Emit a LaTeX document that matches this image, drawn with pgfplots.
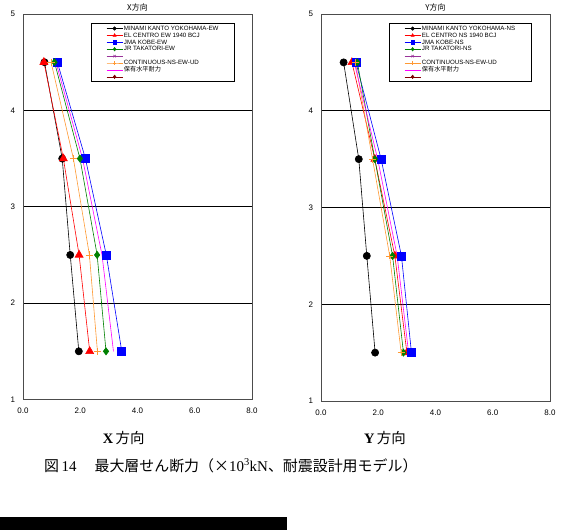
\documentclass[border=0pt]{standalone}
\usepackage{fontspec}
\setmainfont{Liberation Serif}
\newfontfamily\sans{Liberation Sans}
\newfontfamily\cjk{Noto Sans CJK JP}
\usepackage{pgfplots}
\pgfplotsset{compat=1.18}

\definecolor{sOrange}{RGB}{255,153,51}
\definecolor{sGreen}{RGB}{0,128,0}
\definecolor{sMag}{RGB}{255,0,255}
\definecolor{sPurple}{RGB}{153,51,153}
\definecolor{sDark}{RGB}{128,0,0}

\pgfplotsset{
  shearaxis/.style={
    width=229bp, scale only axis,
    xmin=0, xmax=8, ymin=1, ymax=5,
    xtick={0,2,4,6,8}, ytick={1,2,3,4,5},
    major tick length=0pt,
    xticklabel={\pgfmathprintnumber[fixed,fixed zerofill,precision=1]{\tick}},
    /pgf/number format/assume math mode=true,
    ticklabel style={font=\sans\fontsize{8}{8}\selectfont},
    yticklabel style={xshift=-4.5bp},
    xticklabel style={yshift=-5bp},
    ymajorgrids, grid style={black, line width=0.6bp},
    axis line style={black!70, line width=0.8bp},
    every axis title/.style={font=\cjk\fontsize{8}{8}\selectfont, at={(0.5,1)}, anchor=base, yshift=3.5bp},
    legend cell align=left,
    legend style={at={(axis description cs:0.297,0.976)}, anchor=north west,
      draw=black, line width=0.6bp, fill=white,
      inner xsep=15bp, inner ysep=1.5bp, row sep=0pt,
      font=\sans\fontsize{6.2}{6.2}\selectfont,
      nodes={inner ysep=0.2bp, inner xsep=1bp, text height=5bp, text depth=1.5bp}},
    legend image code/.code={\draw[mark repeat=2,mark phase=2] plot coordinates {(0bp,0bp) (8bp,0bp) (16bp,0bp)};},
    legend image post style={mark size=1.7bp},
    every axis plot/.append style={line width=0.6bp},
  },
  sBlack/.style={black, mark=*, mark size=3.6bp},
  sRed/.style={red, mark=triangle*, mark size=4.6bp},
  sBlue/.style={blue, mark=square*, mark size=4bp},
  sGrn/.style={sGreen, mark=diamond*, mark size=3.6bp},
  sOra/.style={sOrange, mark=+, mark size=3.6bp},
  sMg/.style={sMag, no markers},
}

\begin{document}
\begin{tikzpicture}
\useasboundingbox (0,0) rectangle (575bp,-530bp);

% X direction
\begin{axis}[shearaxis, height=385.5bp, at={(23bp,-399.5bp)}, anchor=south west, title={X方向}]
\addplot[sBlack] coordinates {(1.95,1.5) (1.65,2.5) (1.37,3.5) (0.75,4.5)};
\addlegendentry{MINAMI KANTO YOKOHAMA-EW}
\addplot[sRed] coordinates {(2.33,1.5) (1.96,2.5) (1.41,3.5) (0.73,4.5)};
\addlegendentry{EL CENTRO EW 1940 BCJ}
\addplot[sBlue] coordinates {(3.45,1.5) (2.91,2.5) (2.18,3.5) (1.20,4.5)};
\addlegendentry{JMA KOBE-EW}
\addplot[sGrn] coordinates {(2.90,1.5) (2.59,2.5) (1.99,3.5) (1.10,4.5)};
\addlegendentry{JR TAKATORI-EW}
\addlegendimage{sPurple, mark=x}
\addlegendentry{}
\addplot[sOra] coordinates {(2.60,1.5) (2.32,2.5) (1.76,3.5) (0.98,4.5)};
\addlegendentry{CONTINUOUS-NS-EW-UD}
\addplot[sMg] coordinates {(3.16,1.5) (2.76,2.5) (2.08,3.5) (1.15,4.5)};
\addlegendentry{\cjk 保有水平耐力}
\addlegendimage{sDark, mark=diamond*}
\addlegendentry{}
\end{axis}

% Y direction
\begin{axis}[shearaxis, height=387bp, at={(321bp,-401bp)}, anchor=south west, title={Y方向}]
\addplot[sBlack] coordinates {(1.89,1.5) (1.60,2.5) (1.32,3.5) (0.79,4.5)};
\addlegendentry{MINAMI KANTO YOKOHAMA-NS}
\addplot[sRed] coordinates {(3.00,1.5) (2.58,2.5) (1.88,3.5) (1.08,4.5)};
\addlegendentry{EL CENTRO NS 1940 BCJ}
\addplot[sBlue] coordinates {(3.16,1.5) (2.81,2.5) (2.10,3.5) (1.22,4.5)};
\addlegendentry{JMA KOBE-NS}
\addplot[sGrn] coordinates {(2.88,1.5) (2.50,2.5) (1.88,3.5) (1.27,4.5)};
\addlegendentry{JR TAKATORI-NS}
\addlegendimage{sPurple, mark=x}
\addlegendentry{}
\addplot[sOra] coordinates {(2.80,1.5) (2.40,2.5) (1.80,3.5) (1.20,4.5)};
\addlegendentry{CONTINUOUS-NS-EW-UD}
\addplot[sMg] coordinates {(3.06,1.5) (2.66,2.5) (1.98,3.5) (1.16,4.5)};
\addlegendentry{\cjk 保有水平耐力}
\addlegendimage{sDark, mark=diamond*}
\addlegendentry{}
\end{axis}

% sub-captions and figure caption
\node[anchor=base, inner sep=0] at (123.7bp,-443.5bp) {\fontsize{14.5}{14.5}\selectfont\textbf{X}\,{\cjk 方向}};
\node[anchor=base, inner sep=0] at (385bp,-443.5bp) {\fontsize{14.5}{14.5}\selectfont\textbf{Y}\,{\cjk 方向}};
\node[anchor=base west, inner sep=0] at (44bp,-471bp) {\fontsize{15}{15}\selectfont{\cjk 図}\,14\hspace{18bp}{\cjk 最大層せん断力（×}10\textsuperscript{3}kN{\cjk 、耐震設計用モデル）}};

\fill[black] (0,-517.3bp) rectangle (287bp,-530bp);
\end{tikzpicture}
\end{document}
